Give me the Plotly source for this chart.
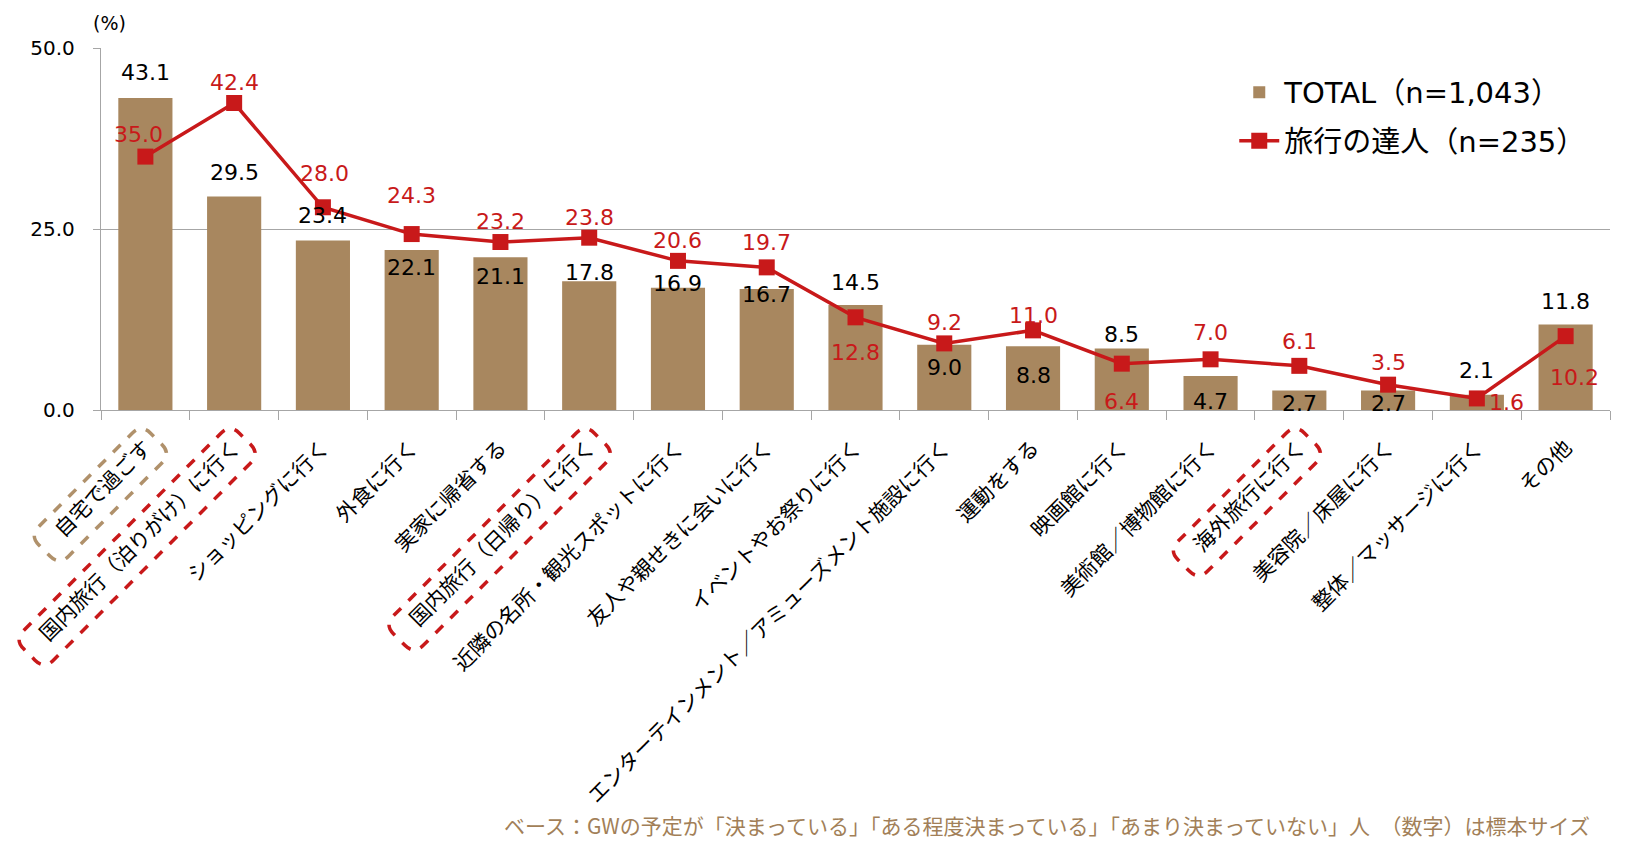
import math
import plotly.graph_objects as go

categories = [
    "自宅で過ごす", "国内旅行（泊りがけ）に行く", "ショッピングに行く", "外食に行く",
    "実家に帰省する", "国内旅行（日帰り）に行く", "近隣の名所・観光スポットに行く",
    "友人や親せきに会いに行く", "イベントやお祭りに行く",
    "エンターテインメント／アミューズメント施設に行く", "運動をする", "映画館に行く",
    "美術館／博物館に行く", "海外旅行に行く", "美容院／床屋に行く", "整体／マッサージに行く", "その他",
]
total_values = [43.1, 29.5, 23.4, 22.1, 21.1, 17.8, 16.9, 16.7, 14.5, 9.0, 8.8, 8.5, 4.7, 2.7, 2.7, 2.1, 11.8]
expert_values = [35.0, 42.4, 28.0, 24.3, 23.2, 23.8, 20.6, 19.7, 12.8, 9.2, 11.0, 6.4, 7.0, 6.1, 3.5, 1.6, 10.2]
y_ticks = [0, 25, 50]

# label offsets (pixels)
total_label_dy = [25, 24, 25, -17, -19, 9, 4, -5, 23, -23, -29, 14, -26, -13, -13, 24, 23]
expert_label_dy = [22, 21, 34, 39, 21, 20, 20, 25, -35, 21, 15, -38, 27, 24, 22, -4, -41]
expert_label_dx = [-7, 0, 2, 0, 0, 0, 0, 0, 0, 0, 0, 0, 0, 0, 0, 30, 9]

# highlighted categories: (index, color)
highlights = [(0, "#B0916B"), (1, "#C8191A"), (5, "#C8191A"), (13, "#C8191A")]

BAR = "#A8875F"
RED = "#C8191A"
GRID = "#A6A6A6"
W, H = 1632, 856
L_M, R_M, T_M, B_M = 101, 22, 48, 446
PW = W - L_M - R_M
PH = H - T_M - B_M
JP = "Noto Sans CJK JP"
NUM = "DejaVu Sans, Noto Sans CJK JP"
TICK_FS = 21

fig = go.Figure()
fig.add_trace(go.Bar(
    x=categories, y=total_values, name="TOTAL（n=1,043）",
    marker=dict(color=BAR, line=dict(width=0)),
    legendgroup="a",
))
fig.add_trace(go.Scatter(
    x=categories, y=expert_values, name="旅行の達人（n=235）",
    mode="lines+markers",
    line=dict(color=RED, width=3.5),
    marker=dict(symbol="square", size=16, color=RED),
    legendgroup="b",
))

annotations = []
for i, c in enumerate(categories):
    annotations.append(dict(
        x=c, y=total_values[i], text=f"{total_values[i]:.1f}", showarrow=False,
        yshift=total_label_dy[i], font=dict(family=NUM, size=22, color="#000000"),
    ))
    annotations.append(dict(
        x=c, y=expert_values[i], text=f"{expert_values[i]:.1f}", showarrow=False,
        yshift=expert_label_dy[i], xshift=expert_label_dx[i],
        font=dict(family=NUM, size=22, color=RED),
    ))

annotations.append(dict(
    xref="paper", yref="paper", x=(109 - L_M) / PW, y=(H - B_M - 23) / PH,
    text="(%)", showarrow=False, xanchor="center", yanchor="middle",
    font=dict(family=NUM, size=19, color="#000000"),
))
annotations.append(dict(
    xref="paper", yref="paper", x=(1592 - L_M) / PW, y=(H - B_M - 825) / PH,
    text="ベース：GWの予定が「決まっている」「ある程度決まっている」「あまり決まっていない」人　（数字）は標本サイズ",
    showarrow=False, xanchor="right", yanchor="middle",
    font=dict(family=JP, size=21, color="#A27F58"),
))


def to_paper(px, py):
    return ((px - L_M) / PW, (H - B_M - py) / PH)


def rounded_box(idx, color):
    n = len(categories)
    step = PW / n
    cx = L_M + step * (idx + 0.5)
    nchars = len(categories[idx])
    length = nchars * TICK_FS + 32
    w = 42
    r = 13
    s = 1 / math.sqrt(2)
    u = (s, -s)
    v = (s, s)
    T = (cx - 4, 424)
    R = (T[0] + w * v[0], T[1] + w * v[1])
    B = (R[0] - length * u[0], R[1] - length * u[1])
    Lc = (T[0] - length * u[0], T[1] - length * u[1])
    pts = [Lc, T, R, B]

    def toward(a, b, d):
        dx, dy = b[0] - a[0], b[1] - a[1]
        m = math.hypot(dx, dy)
        return (a[0] + dx / m * d, a[1] + dy / m * d)

    path = ""
    for k in range(4):
        P = pts[k]
        A = toward(P, pts[k - 1], r)
        Bp = toward(P, pts[(k + 1) % 4], r)
        ax, ay = to_paper(*A)
        px, py = to_paper(*P)
        bx, by = to_paper(*Bp)
        path += ("M" if k == 0 else "L") + f"{ax:.5f},{ay:.5f} Q{px:.5f},{py:.5f} {bx:.5f},{by:.5f} "
    path += "Z"
    return dict(type="path", xref="paper", yref="paper", path=path,
                line=dict(color=color, width=3.5, dash="dash"), layer="above")


shapes = [rounded_box(i, col) for i, col in highlights]

fig.update_layout(
    width=W, height=H,
    margin=dict(l=L_M, r=R_M, t=T_M, b=B_M, autoexpand=False),
    paper_bgcolor="white", plot_bgcolor="white",
    bargap=0.39,
    showlegend=True,
    legend=dict(
        x=0.751, y=0.948, xanchor="left", yanchor="top",
        font=dict(family=NUM, size=29, color="#000000"),
        bgcolor="rgba(0,0,0,0)", traceorder="grouped", tracegroupgap=8,
        itemwidth=40,
    ),
    annotations=annotations,
    shapes=shapes,
    xaxis=dict(
        type="category", tickmode="array", tickvals=categories, ticktext=categories,
        range=[-0.5, len(categories) - 0.5], autorange=False,
        tickangle=-45, tickfont=dict(family=JP, size=TICK_FS, color="#000000"),
        ticklabelstandoff=16,
        showline=True, linecolor=GRID, linewidth=1.3,
        ticks="outside", tickson="boundaries", ticklen=9, tickcolor=GRID, tickwidth=1.3,
        showgrid=False, automargin=False,
    ),
    yaxis=dict(
        range=[0, 50], autorange=False, tickmode="array", tickvals=y_ticks,
        ticktext=[f"{t:.1f}" for t in y_ticks],
        tickfont=dict(family=NUM, size=20, color="#000000"),
        ticklabelstandoff=14,
        showline=True, linecolor=GRID, linewidth=1.3,
        ticks="outside", ticklen=7, tickcolor=GRID, tickwidth=1.3,
        showgrid=True, gridcolor=GRID, gridwidth=1.3, zeroline=False,
        automargin=False,
    ),
)

fig.write_html("out.html")
